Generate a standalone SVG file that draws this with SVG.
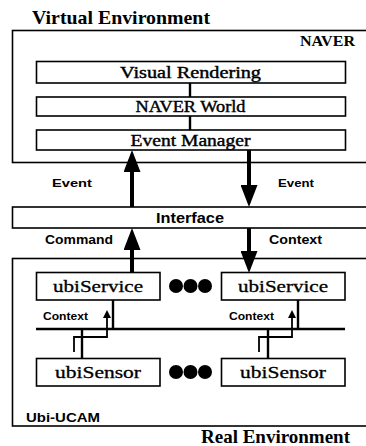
<svg xmlns="http://www.w3.org/2000/svg" width="366" height="446" viewBox="0 0 366 446">
<defs>
<style>
.box{fill:#fff;stroke:#000;stroke-width:1.6}
.frame{fill:none;stroke:#000;stroke-width:1.6}
.title{font-family:"Liberation Serif",serif;font-weight:bold;font-size:19px;fill:#000}
.lbl{font-family:"Liberation Serif",serif;font-size:16px;text-anchor:middle;fill:#000;stroke:#000;stroke-width:0.4}
.ubi{font-family:"Liberation Serif",serif;font-size:17px;text-anchor:middle;fill:#000;stroke:#000;stroke-width:0.3}
.sans{font-family:"Liberation Sans",sans-serif;font-weight:bold;font-size:11px;fill:#000}
.thick{stroke:#000;stroke-width:4;fill:none}
.mid{stroke:#000;stroke-width:2.4;fill:none}
.thin{stroke:#000;stroke-width:1.8;fill:none}
.dot{fill:#000}
</style>
<marker id="big" viewBox="0 0 22 17" refX="0" refY="8.5" markerWidth="22" markerHeight="17" orient="auto" markerUnits="userSpaceOnUse">
<path d="M0,0 L22,8.5 L0,17 z" fill="#000"/>
</marker>
<marker id="small" viewBox="0 0 8 8" refX="0" refY="4" markerWidth="8" markerHeight="8" orient="auto" markerUnits="userSpaceOnUse">
<path d="M0,0 L8,4 L0,8 z" fill="#000"/>
</marker>
</defs>
<rect width="366" height="446" fill="#fff"/>

<g id="title-virtual"><text class="title" x="32" y="24" textLength="178" lengthAdjust="spacingAndGlyphs">Virtual Environment</text></g>

<g id="naver">
<rect class="frame" x="12.5" y="30.5" width="360" height="132"/>
<text class="title" x="300" y="46" style="font-size:14px" textLength="55" lengthAdjust="spacingAndGlyphs">NAVER</text>
</g>
<g id="visual-rendering"><rect class="box" x="36.5" y="61.5" width="309" height="21.5"/><text class="lbl" x="190.5" y="78" textLength="141" lengthAdjust="spacingAndGlyphs">Visual Rendering</text></g>
<g id="naver-world"><rect class="box" x="36.5" y="97" width="309" height="19"/><text class="lbl" x="190.5" y="112" textLength="110" lengthAdjust="spacingAndGlyphs">NAVER World</text></g>
<g id="event-manager"><rect class="box" x="36.5" y="130" width="309" height="20"/><text class="lbl" x="190.5" y="146" textLength="120" lengthAdjust="spacingAndGlyphs">Event Manager</text></g>

<g id="interface"><rect class="box" x="12.5" y="207" width="360" height="21"/><text class="sans" x="190" y="223" style="font-size:14px;text-anchor:middle" textLength="68" lengthAdjust="spacingAndGlyphs">Interface</text></g>

<g id="ubi-ucam">
<rect class="frame" x="12.5" y="258.5" width="360" height="167.5"/>
<text class="sans" x="26" y="422" style="font-size:13px" textLength="74" lengthAdjust="spacingAndGlyphs">Ubi-UCAM</text>
</g>
<g id="ubiservice-1"><rect class="box" x="36.5" y="272.5" width="123.5" height="27.5"/><text class="ubi" x="98" y="292" textLength="90" lengthAdjust="spacingAndGlyphs">ubiService</text></g>
<g id="ubiservice-2"><rect class="box" x="221.5" y="272.5" width="123.5" height="27.5"/><text class="ubi" x="283" y="292" textLength="90" lengthAdjust="spacingAndGlyphs">ubiService</text></g>
<g id="dots-1"><circle class="dot" cx="176" cy="286" r="7"/><circle class="dot" cx="190.5" cy="286" r="7"/><circle class="dot" cx="205" cy="286" r="7"/></g>
<g id="ubisensor-1"><rect class="box" x="36.5" y="358.5" width="123.5" height="27.5"/><text class="ubi" x="98" y="378" textLength="86" lengthAdjust="spacingAndGlyphs">ubiSensor</text></g>
<g id="ubisensor-2"><rect class="box" x="221.5" y="358.5" width="123.5" height="27.5"/><text class="ubi" x="283" y="378" textLength="86" lengthAdjust="spacingAndGlyphs">ubiSensor</text></g>
<g id="dots-2"><circle class="dot" cx="176" cy="372" r="7"/><circle class="dot" cx="190.5" cy="372" r="7"/><circle class="dot" cx="205" cy="372" r="7"/></g>
<g id="bus"><line class="mid" x1="36" y1="329" x2="345" y2="329"/></g>

<g id="title-real"><text class="title" x="350" y="443" style="text-anchor:end">Real Environment</text></g>

<g id="connectors">
<line class="mid" x1="190" y1="83" x2="190" y2="97"/>
<line class="mid" x1="190" y1="116" x2="190" y2="130"/>
<line class="thick" x1="132" y1="207" x2="132" y2="172" marker-end="url(#big)"/>
<line class="thick" x1="249" y1="150" x2="249" y2="185" marker-end="url(#big)"/>
<line class="thick" x1="132" y1="272" x2="132" y2="250" marker-end="url(#big)"/>
<line class="thick" x1="249" y1="228" x2="249" y2="251" marker-end="url(#big)"/>
<line class="mid" x1="113" y1="300" x2="113" y2="329"/>
<line class="mid" x1="298" y1="300" x2="298" y2="329"/>
<line class="mid" x1="82" y1="329" x2="82" y2="358"/>
<line class="mid" x1="268" y1="329" x2="268" y2="358"/>
<path class="thin" d="M74,352 V337 H107 V318" marker-end="url(#small)"/>
<path class="thin" d="M259,352 V337 H292 V318" marker-end="url(#small)"/>
<text class="sans" x="52" y="187" textLength="40" lengthAdjust="spacingAndGlyphs">Event</text>
<text class="sans" x="278" y="187" textLength="36" lengthAdjust="spacingAndGlyphs">Event</text>
<text class="sans" x="45" y="244" style="font-size:12px" textLength="68" lengthAdjust="spacingAndGlyphs">Command</text>
<text class="sans" x="269" y="244" style="font-size:12px" textLength="53" lengthAdjust="spacingAndGlyphs">Context</text>
<text class="sans" x="43" y="320" textLength="45" lengthAdjust="spacingAndGlyphs">Context</text>
<text class="sans" x="229" y="320" textLength="45" lengthAdjust="spacingAndGlyphs">Context</text>
</g>
</svg>
